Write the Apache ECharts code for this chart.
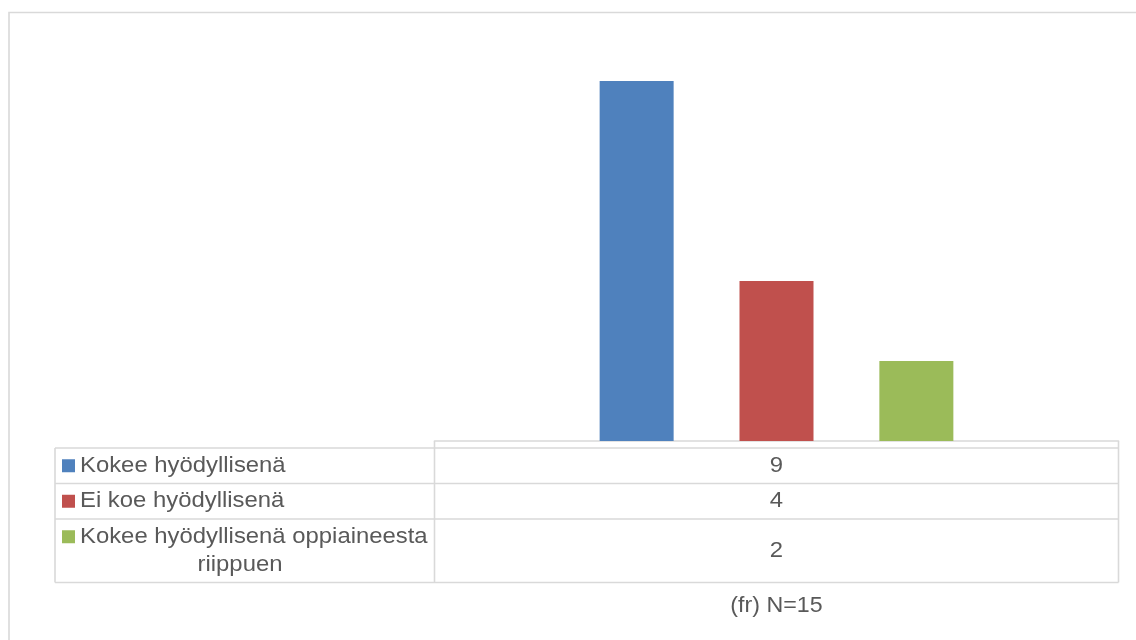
<!DOCTYPE html>
<html>
<head>
<meta charset="utf-8">
<script src="https://cdn.jsdelivr.net/npm/echarts@6/dist/echarts.min.js"></script>
<style>
  html, body { margin: 0; padding: 0; background: #ffffff; }
  #chart { width: 1136px; height: 640px; }
</style>
</head>
<body>
<div id="chart"></div>
<script>
// Data
const categories = ['(fr) N=15'];
const seriesNames = ['Kokee hyödyllisenä', 'Ei koe hyödyllisenä', 'Kokee hyödyllisenä oppiaineesta\nriippuen'];
const seriesValues = [[9], [4], [2]];
const seriesColors = ['#4f81bd', '#c0504d', '#9bbb59'];
const axisMax = 10;

// Layout of plot area and the data table below it
const GRID_LEFT = 434.5, GRID_RIGHT = 1118.5, GRID_TOP = 41, AXIS_Y = 441;
const TABLE_LEFT = 55;
const ROW_TOPS = [448, 483.5, 519];
const TABLE_BOTTOM = 582.5;
const LINE_GAP = 28;
const FONT = '21.5px "Liberation Sans", Arial, sans-serif';
const TEXT_COLOR = '#595959';
const STRETCH = 1.11;
const BORDER = '#d9d9d9';

const chart = echarts.init(document.getElementById('chart'), null, { renderer: 'canvas' });

const series = seriesNames.map((name, i) => ({
  name: name,
  type: 'bar',
  data: seriesValues[i],
  barWidth: 74,
  barGap: '89%',
  itemStyle: { color: seriesColors[i] },
  emphasis: { disabled: true }
}));

// Data table drawn as graphic elements
const graphics = [];
const line = (x1, y1, x2, y2) => ({
  type: 'line', silent: true,
  shape: { x1, y1, x2, y2 },
  style: { stroke: BORDER, lineWidth: 1.6 }
});
const text = (str, x, y, align, stretch) => ({
  type: 'text', silent: true, x, y, scaleX: stretch || STRETCH,
  style: { text: str, font: FONT, fill: TEXT_COLOR, align, verticalAlign: 'middle' }
});

// Outer chart frame
graphics.push({
  type: 'rect', silent: true,
  shape: { x: 9, y: 12.5, width: 1300, height: 800 },
  style: { fill: null, stroke: BORDER, lineWidth: 1.6 }
});

// Table grid lines
graphics.push(line(GRID_LEFT, AXIS_Y, GRID_LEFT, TABLE_BOTTOM));
graphics.push(line(GRID_RIGHT, AXIS_Y, GRID_RIGHT, TABLE_BOTTOM));
graphics.push(line(TABLE_LEFT, ROW_TOPS[0], TABLE_LEFT, TABLE_BOTTOM));
ROW_TOPS.concat([TABLE_BOTTOM]).forEach(y => graphics.push(line(TABLE_LEFT, y, GRID_RIGHT, y)));

const centerX = (GRID_LEFT + GRID_RIGHT) / 2;
seriesNames.forEach((name, i) => {
  const top = ROW_TOPS[i];
  const bottom = i + 1 < ROW_TOPS.length ? ROW_TOPS[i + 1] : TABLE_BOTTOM;
  const mid = (top + bottom) / 2;
  const lines = name.split('\n');
  const firstY = mid - (lines.length - 1) * LINE_GAP / 2;
  // legend key
  graphics.push({
    type: 'rect', silent: true,
    shape: { x: 62, y: firstY - 6.5, width: 13, height: 13 },
    style: { fill: seriesColors[i] }
  });
  lines.forEach((ln, k) => {
    if (k === 0) graphics.push(text(ln, 80, firstY, 'left'));
    else graphics.push(text(ln, 240, firstY + k * LINE_GAP, 'center'));
  });
  // value cell
  graphics.push(text(String(seriesValues[i][0]), centerX, mid, 'center'));
});

// Category label under the table
graphics.push(text(categories[0], centerX, 606, 'center', 1.08));

chart.setOption({
  animation: false,
  backgroundColor: '#ffffff',
  grid: {
    left: GRID_LEFT,
    right: 1136 - GRID_RIGHT,
    top: GRID_TOP,
    bottom: 640 - AXIS_Y
  },
  xAxis: {
    type: 'category',
    data: categories,
    axisLine: { show: true, lineStyle: { color: BORDER, width: 1.6 } },
    axisTick: { show: false },
    axisLabel: { show: false },
    splitLine: { show: false }
  },
  yAxis: {
    type: 'value',
    min: 0,
    max: axisMax,
    show: false,
    splitLine: { show: false }
  },
  series: series,
  graphic: graphics
});
</script>
</body>
</html>
